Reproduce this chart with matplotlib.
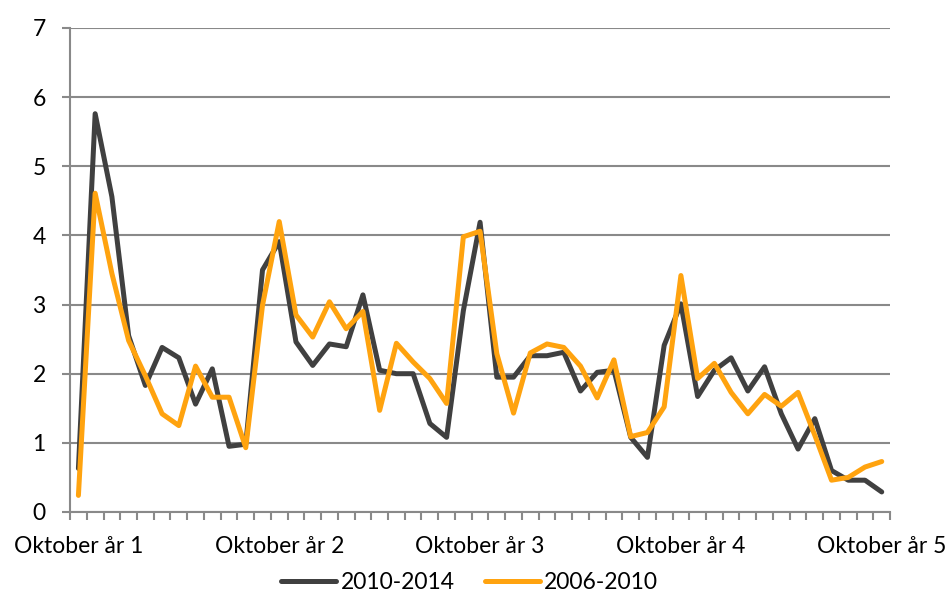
import numpy as np
import matplotlib
matplotlib.use("Agg")
import matplotlib.pyplot as plt
from matplotlib.ticker import FixedLocator, NullFormatter

plt.rcParams['font.family'] = ['Lato', 'DejaVu Sans']

# Värden, en punkt per månad (49 st)
serie_2010_2014 = [0.63, 5.76, 4.56, 2.55, 1.83, 2.38, 2.23, 1.56, 2.07, 0.95, 0.98, 3.50,
                   3.91, 2.46, 2.12, 2.43, 2.39, 3.14, 2.05, 2.00, 2.00, 1.28, 1.08, 2.91,
                   4.19, 1.95, 1.95, 2.26, 2.26, 2.31, 1.75, 2.02, 2.05, 1.08, 0.79, 2.41,
                   3.01, 1.67, 2.05, 2.23, 1.75, 2.10, 1.42, 0.91, 1.35, 0.60, 0.46, 0.46,
                   0.29]
serie_2006_2010 = [0.24, 4.61, 3.45, 2.48, 1.97, 1.42, 1.25, 2.11, 1.66, 1.66, 0.93, 2.99,
                   4.20, 2.85, 2.53, 3.04, 2.65, 2.90, 1.47, 2.44, 2.17, 1.93, 1.57, 3.98,
                   4.06, 2.29, 1.43, 2.30, 2.43, 2.38, 2.11, 1.65, 2.20, 1.09, 1.15, 1.52,
                   3.42, 1.93, 2.15, 1.73, 1.42, 1.70, 1.53, 1.73, 1.11, 0.46, 0.50, 0.65,
                   0.73]
etiketter = ["Oktober år 1", "Oktober år 2", "Oktober år 3", "Oktober år 4", "Oktober år 5"]
serienamn = ["2010-2014", "2006-2010"]

x = np.arange(len(serie_2010_2014))
grid_col = "#898989"
fs = 16.5

fig = plt.figure(figsize=(9.53, 5.95), dpi=100)
ax = fig.add_axes([0.0735, 0.1395, 0.8605, 0.8135])

ax.plot(x, serie_2010_2014, color="#404040", linewidth=3.6, solid_joinstyle="round",
        solid_capstyle="round", label=serienamn[0], zorder=3)
ax.plot(x, serie_2006_2010, color="#FFA30F", linewidth=3.6, solid_joinstyle="round",
        solid_capstyle="round", label=serienamn[1], zorder=4)

ax.set_xlim(-0.5, len(x) - 0.5)
ax.set_ylim(0, 7)
ax.set_yticks(range(0, 8))
ax.yaxis.grid(True, color=grid_col, linewidth=1.5)
ax.set_axisbelow(True)

ax.set_xticks(x[::12])
ax.set_xticklabels(etiketter)
ax.xaxis.set_minor_locator(FixedLocator(np.arange(-0.5, len(x), 1.0)))
ax.xaxis.set_minor_formatter(NullFormatter())
ax.tick_params(axis="x", which="major", length=0, pad=17, labelsize=fs)
ax.tick_params(axis="x", which="minor", length=5.5, width=1.5, color=grid_col)
ax.tick_params(axis="y", length=5.5, width=1.5, color=grid_col, pad=12, labelsize=fs)

for s in ["top", "right"]:
    ax.spines[s].set_visible(False)
for s in ["left", "bottom"]:
    ax.spines[s].set_color(grid_col)
    ax.spines[s].set_linewidth(1.5)

fig.legend(loc="center", bbox_to_anchor=(0.493, 0.021), ncol=2, frameon=False,
           fontsize=fs, handlelength=2.4, handletextpad=0.2, columnspacing=1.3,
           borderpad=0.1)

fig.savefig("out.png", dpi=100)
